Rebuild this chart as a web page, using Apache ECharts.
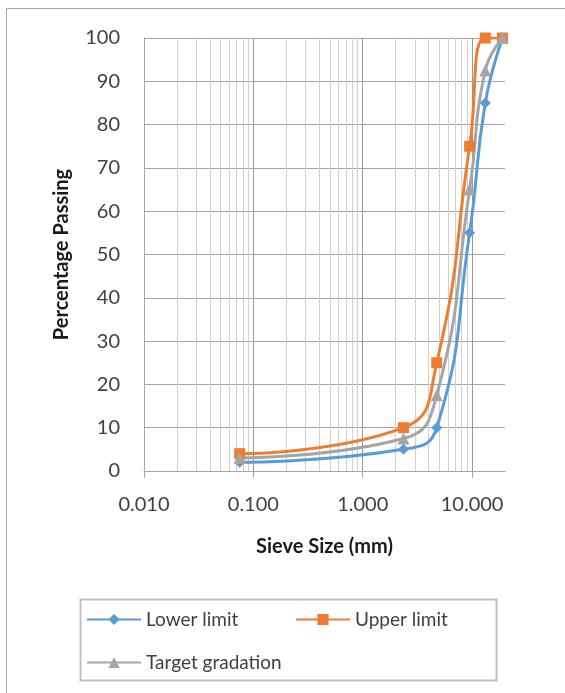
<!DOCTYPE html>
<html>
<head>
<meta charset="utf-8">
<script src="https://cdn.jsdelivr.net/npm/echarts@6/dist/echarts.min.js"></script>
<style>
  html, body { margin: 0; padding: 0; background: #fff; }
  #chart { width: 565px; height: 693px; }
</style>
</head>
<body>
<div id="chart"></div>
<script>
// sieve sizes (mm) and % passing
const sieveSizes = [0.075, 2.36, 4.75, 9.5, 13.2, 19];
const lowerLimit = [2, 5, 10, 55, 85, 100];
const upperLimit = [4, 10, 25, 75, 100, 100];
const targetGradation = [3, 7.5, 17.5, 65, 92.5, 100];
const xTickValues = [0.01, 0.1, 1, 10];

const FONT = 'Lato';
const chart = echarts.init(document.getElementById('chart'), null, { renderer: 'canvas' });

const pairs = (ys) => sieveSizes.map((x, i) => [x, ys[i]]);

// minor log gridlines 2..9 inside each decade (up to the axis max of 20)
const minorGrid = [];
xTickValues.forEach(d => {
  for (let k = 2; k <= 9; k++) {
    const v = +(d * k).toPrecision(3);
    if (v < 20) minorGrid.push({ xAxis: v });
  }
});

const LINE = { type: 'line', smooth: 0.5, showSymbol: true, z: 3 };

chart.setOption({
  animation: false,
  backgroundColor: '#fff',
  textStyle: { fontFamily: FONT },
  grid: { left: 144, right: 60, top: 38, bottom: 222, containLabel: false, outerBoundsMode: 'none' },
  xAxis: {
    type: 'log', logBase: 10, min: 0.01, max: 20,
    name: 'Sieve Size (mm)', nameLocation: 'middle', nameGap: 66,
    nameTextStyle: { fontFamily: FONT, fontSize: 20, fontWeight: 'bold', color: '#1a1a1a' },
    axisLine: { show: true, lineStyle: { color: '#a6a6a6', width: 1 } },
    axisTick: { show: true, length: 7, customValues: xTickValues, lineStyle: { color: '#a6a6a6' } },
    axisLabel: {
      customValues: xTickValues, margin: 24, fontSize: 20, fontFamily: FONT, color: '#404040',
      formatter: (v) => v > 10 ? '' : Number(v).toFixed(3)
    },
    splitLine: { show: true, lineStyle: { color: '#999999', width: 1 } },
    minorSplitLine: { show: false }
  },
  yAxis: {
    type: 'value', min: 0, max: 100, interval: 10,
    name: 'Percentage Passing', nameLocation: 'middle', nameGap: 72, nameRotate: 90,
    nameTextStyle: { fontFamily: FONT, fontSize: 20, fontWeight: 'bold', color: '#1a1a1a' },
    axisLine: { show: true, lineStyle: { color: '#a6a6a6', width: 1 } },
    axisTick: { show: false },
    axisLabel: { margin: 24, fontSize: 20, fontFamily: FONT, color: '#404040' },
    splitLine: { show: true, lineStyle: { color: '#a6a6a6', width: 1 } }
  },
  legend: [
    { data: ['Lower limit'], left: 86, top: 610 },
    { data: ['Upper limit'], left: 295, top: 610 },
    { data: ['Target gradation'], left: 86, top: 653 }
  ].map(l => Object.assign({
    orient: 'horizontal', padding: 0, itemWidth: 54, itemHeight: 14, itemGap: 10, itemTextGap: 5,
    textStyle: { fontFamily: FONT, fontSize: 19, color: '#404040' }
  }, l)),
  graphic: [
    { type: 'rect', silent: true, shape: { x: 6.5, y: 8.5, width: 700, height: 800 },
      style: { fill: null, stroke: '#a6a6a6', lineWidth: 1 } },
    { type: 'rect', silent: true, shape: { x: 80.5, y: 599.5, width: 416, height: 81 },
      style: { fill: null, stroke: '#bfbfbf', lineWidth: 2 } }
  ],
  series: [
    Object.assign({}, LINE, {
      name: 'Lower limit', data: pairs(lowerLimit),
      symbol: 'diamond', symbolSize: 11,
      itemStyle: { color: '#5B9BD5' }, lineStyle: { color: '#5B9BD5', width: 3 },
      markLine: {
        silent: true, z: 1, symbol: ['none', 'none'], label: { show: false },
        lineStyle: { color: '#d0d0d0', width: 1, type: 'solid' },
        emphasis: { disabled: true },
        data: minorGrid
      }
    }),
    Object.assign({}, LINE, {
      name: 'Upper limit', data: pairs(upperLimit),
      symbol: 'rect', symbolSize: 11,
      itemStyle: { color: '#ED7D31' }, lineStyle: { color: '#ED7D31', width: 3 }
    }),
    Object.assign({}, LINE, {
      name: 'Target gradation', data: pairs(targetGradation),
      symbol: 'triangle', symbolSize: 12,
      itemStyle: { color: '#A5A5A5' }, lineStyle: { color: '#A5A5A5', width: 3 }
    })
  ]
});

window.addEventListener('resize', () => chart.resize());
</script>
</body>
</html>
